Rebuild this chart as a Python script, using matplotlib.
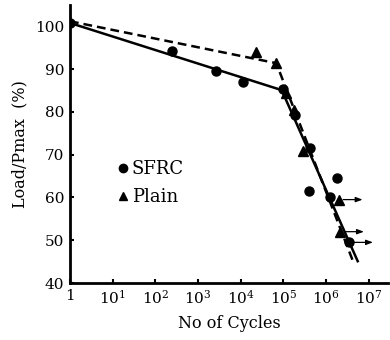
import matplotlib
matplotlib.use("Agg")
import matplotlib.pyplot as plt
from matplotlib.lines import Line2D

plt.rcParams['font.family'] = ['DejaVu Serif']
plt.rcParams['mathtext.fontset'] = 'dejavuserif'

# SFRC data (cycles, load %)
sfrc_cycles = [1, 250, 2600, 11000, 100000, 190000, 420000, 400000, 1800000, 1250000, 3500000]
sfrc_load = [100.8, 94.2, 89.5, 87.0, 85.3, 79.3, 71.5, 61.5, 64.5, 60.0, 49.5]
# Plain data
plain_cycles = [23000, 66000, 112000, 178000, 290000, 2000000, 2150000]
plain_load = [94.0, 91.5, 84.5, 80.5, 70.8, 59.5, 52.0]
# run-outs (arrows)
runout_cycles = [2000000, 2150000, 3500000]
runout_load = [59.5, 52.0, 49.5]
# fitted lines
sfrc_fit_cycles = [1, 91000, 5500000]
sfrc_fit_load = [100.8, 85.1, 45.1]
plain_fit_cycles = [1, 68000, 4300000]
plain_fit_load = [101.2, 91.4, 45.0]

xticks = [1, 10, 100, 1e3, 1e4, 1e5, 1e6, 1e7]
xticklabels = ['1'] + [r'10$^{%d}$' % i for i in range(1, 8)]
yticks = [40, 50, 60, 70, 80, 90, 100]

fig = plt.figure(figsize=(3.9, 3.4), dpi=100)
ax = fig.add_axes([70/390, 1-283/340, (388-70)/390, (283-5)/340])

ax.plot(sfrc_fit_cycles, sfrc_fit_load, '-', color='black', lw=1.8)
ax.plot(plain_fit_cycles, plain_fit_load, '--', color='black', lw=1.8, dashes=(3.5, 2))
ax.plot(sfrc_cycles, sfrc_load, 'o', color='black', ms=6.5, ls='none')
ax.plot(plain_cycles, plain_load, '^', color='black', ms=6.5, ls='none')
for c, l in zip(runout_cycles, runout_load):
    ax.annotate('', xy=(c, l), xytext=(17, 0), textcoords='offset points',
                arrowprops=dict(arrowstyle='<|-,head_length=0.4,head_width=0.15',
                                color='black', lw=0.9, shrinkA=0, shrinkB=3))

ax.set_xscale('log')
ax.set_xlim(1, 10**7.45)
ax.set_ylim(40, 105)
ax.set_xticks(xticks)
ax.set_xticklabels(xticklabels)
ax.minorticks_off()
ax.set_yticks(yticks)
for s in ['top', 'right']:
    ax.spines[s].set_visible(False)
for s in ['left', 'bottom']:
    ax.spines[s].set_linewidth(2.0)
ax.tick_params(direction='in', length=3, width=1.5, labelsize=11, pad=4)
ax.set_xlabel('No of Cycles', fontsize=11.5, labelpad=6)
ax.set_ylabel('Load/Pmax  (%)', fontsize=11.5, labelpad=5)

h1 = Line2D([], [], marker='o', color='black', ls='none', ms=6)
h2 = Line2D([], [], marker='^', color='black', ls='none', ms=6)
ax.legend([h1, h2], ['SFRC', 'Plain'], loc='upper left', bbox_to_anchor=(0.12, 0.475),
          frameon=False, fontsize=13, handlelength=0.6, handletextpad=0.2,
          borderpad=0, labelspacing=0.55)

fig.savefig('out.png', dpi=100)
